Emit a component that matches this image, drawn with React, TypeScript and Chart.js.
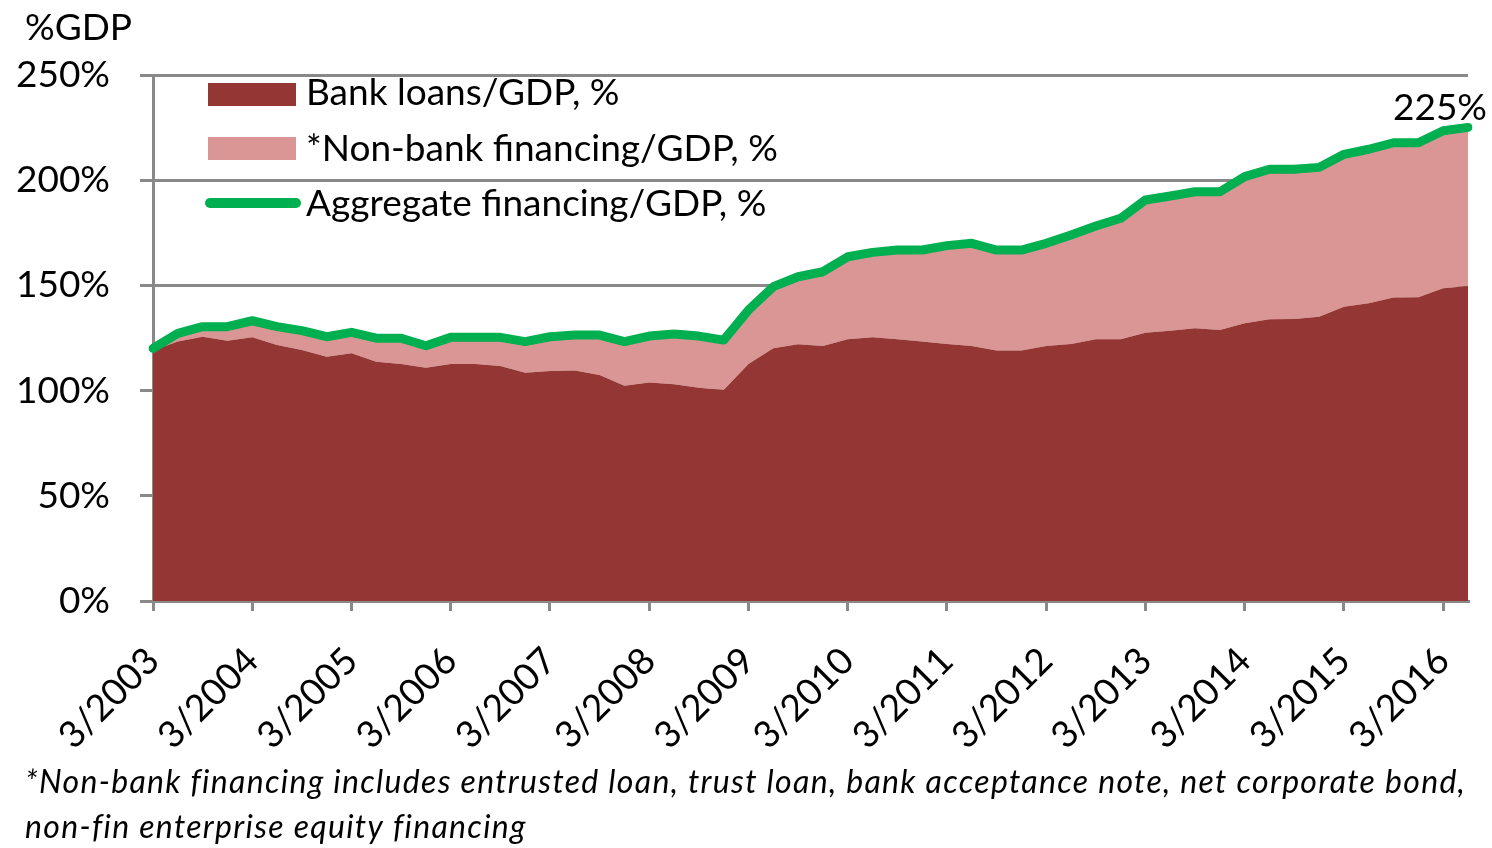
import React, { useEffect, useRef } from "react";
import { Chart, registerables } from "chart.js";

Chart.register(...registerables);

const years = [2003, 2004, 2005, 2006, 2007, 2008, 2009, 2010, 2011, 2012, 2013, 2014, 2015, 2016];
const quarterMonths = [3, 6, 9, 12];

const bankLoans = [
  119.0, 123.3, 125.6, 123.7, 125.3, 121.7, 119.3, 116.1, 117.7, 113.7, 112.6, 110.9,
  112.6, 112.6, 111.7, 108.5, 109.3, 109.5, 107.4, 102.3, 103.9, 103.0, 101.4, 100.3,
  112.6, 120.1, 122.0, 121.2, 124.4, 125.3, 124.4, 123.3, 122.1, 121.2, 119.0, 119.0,
  121.2, 122.1, 124.4, 124.4, 127.5, 128.5, 129.6, 128.8, 132.0, 133.9, 134.0, 135.1,
  139.9, 141.5, 144.3, 144.4, 148.6, 149.7,
];

const aggregateFinancing = [
  120.1, 127.2, 130.4, 130.4, 133.2, 130.4, 128.5, 125.6, 127.7, 124.9, 124.9, 121.3,
  125.3, 125.3, 125.3, 123.3, 125.6, 126.4, 126.4, 123.3, 125.9, 126.9, 125.9, 124.0,
  138.3, 149.4, 154.1, 156.5, 163.6, 165.7, 166.8, 166.8, 168.9, 170.0, 166.8, 166.8,
  170.0, 174.0, 178.2, 181.9, 190.6, 192.5, 194.5, 194.5, 201.7, 205.2, 205.2, 206.1,
  212.3, 214.7, 217.8, 217.8, 223.5, 225.1,
];

const categories: string[] = [];
years.forEach((y) => quarterMonths.forEach((m) => categories.push(`${m}/${y}`)));
const labels = categories.slice(0, bankLoans.length);

const yTicks = [0, 50, 100, 150, 200, 250];

const seriesNames = [
  "Bank loans/GDP, %",
  "*Non-bank financing/GDP, %",
  "Aggregate financing/GDP, %",
];

const axisTitle = "%GDP";
const footnoteLines = [
  "*Non-bank financing includes entrusted loan, trust loan, bank acceptance note, net corporate bond,",
  "non-fin enterprise equity financing",
];

const COLORS = {
  bank: "#943634",
  nonBank: "#D99694",
  aggregate: "#00B050",
  axis: "#898989",
  text: "#000000",
};

const FONT = "Lato, 'Open Sans', sans-serif";
const TICK_SIZE = 37;
const FOOT_SIZE = 32;

const overlayPlugin = {
  id: "overlay",
  afterDraw(chart: any) {
    const ctx = chart.ctx as CanvasRenderingContext2D;
    const ca = chart.chartArea;
    ctx.save();
    ctx.fillStyle = COLORS.text;
    ctx.textAlign = "left";
    ctx.textBaseline = "alphabetic";
    ctx.font = `${TICK_SIZE}px ${FONT}`;
    ctx.fillText(axisTitle, 25, 40);

    // legend
    const lx = ca.left + 55;
    const boxW = 88;
    const tx = lx + 98;
    ctx.fillStyle = COLORS.bank;
    ctx.fillRect(lx, ca.top + 8, boxW, 23);
    ctx.fillStyle = COLORS.nonBank;
    ctx.fillRect(lx, ca.top + 62, boxW, 23);
    ctx.strokeStyle = COLORS.aggregate;
    ctx.lineWidth = 10;
    ctx.lineCap = "round";
    ctx.beginPath();
    ctx.moveTo(lx + 2, ca.top + 128);
    ctx.lineTo(lx + boxW, ca.top + 128);
    ctx.stroke();
    ctx.fillStyle = COLORS.text;
    ctx.fillText(seriesNames[0], tx, ca.top + 30);
    ctx.fillText(seriesNames[1], tx, ca.top + 86);
    ctx.fillText(seriesNames[2], tx, ca.top + 141);

    // end value label
    const meta = chart.getDatasetMeta(2);
    const last = meta.data[meta.data.length - 1];
    const lastVal = aggregateFinancing[aggregateFinancing.length - 1];
    ctx.textAlign = "center";
    ctx.fillText(`${Math.round(lastVal)}%`, last.x - 28, last.y - 7);

    // footnote
    ctx.textAlign = "left";
    ctx.font = `italic ${FOOT_SIZE}px ${FONT}`;
    (ctx as any).letterSpacing = "1.3px";
    ctx.fillText(footnoteLines[0], 25, 793);
    ctx.fillText(footnoteLines[1], 25, 838);
    ctx.restore();
  },
};

export default function App() {
  const canvasRef = useRef<HTMLCanvasElement | null>(null);

  useEffect(() => {
    if (!canvasRef.current) return;
    const chart = new Chart(canvasRef.current, {
      type: "line",
      data: {
        labels,
        datasets: [
          {
            label: seriesNames[0],
            data: bankLoans,
            backgroundColor: COLORS.bank,
            borderWidth: 0,
            pointRadius: 0,
            fill: "origin",
            tension: 0,
          },
          {
            label: seriesNames[1],
            data: aggregateFinancing,
            backgroundColor: COLORS.nonBank,
            borderWidth: 0,
            pointRadius: 0,
            fill: "-1",
            tension: 0,
          },
          {
            label: seriesNames[2],
            data: aggregateFinancing,
            borderColor: COLORS.aggregate,
            borderWidth: 9,
            borderJoinStyle: "round",
            borderCapStyle: "round",
            pointRadius: 0,
            fill: false,
            tension: 0,
            order: -1,
          },
        ],
      },
      options: {
        responsive: false,
        animation: false,
        devicePixelRatio: 1,
        layout: { padding: { left: 0, right: 24, top: 75, bottom: 0 } },
        plugins: {
          legend: { display: false },
          tooltip: { enabled: false },
        },
        scales: {
          x: {
            type: "category",
            offset: false,
            grid: {
              drawOnChartArea: false,
              drawTicks: true,
              tickLength: 10,
              color: COLORS.axis,
              lineWidth: 3,
            },
            border: { display: true, color: COLORS.axis, width: 3 },
            ticks: {
              autoSkip: false,
              maxRotation: 45,
              minRotation: 45,
              padding: 28,
              color: COLORS.text,
              font: { family: FONT, size: TICK_SIZE },
              callback: (_v: any, i: number) =>
                labels[i] && labels[i].startsWith("3/") ? labels[i] : null,
            },
            afterFit: (scale: any) => {
              scale.height = 247;
              scale.paddingLeft = 0;
              scale.paddingRight = 0;
            },
          },
          y: {
            min: yTicks[0],
            max: yTicks[yTicks.length - 1],
            afterBuildTicks: (scale: any) => {
              scale.ticks = yTicks.map((v) => ({ value: v }));
            },
            grid: {
              color: COLORS.axis,
              lineWidth: 3,
              tickLength: 13,
              drawTicks: true,
            },
            border: { display: true, color: COLORS.axis, width: 3 },
            ticks: {
              padding: 30,
              color: COLORS.text,
              font: { family: FONT, size: TICK_SIZE },
              callback: (v: any) => `${v}%`,
            },
            afterFit: (scale: any) => {
              scale.width = 153;
            },
          },
        },
      },
      plugins: [overlayPlugin],
    });
    return () => chart.destroy();
  }, []);

  return (
    <div style={{ position: "absolute", left: 0, top: 0, width: 1492, height: 848, background: "#fff" }}>
      <canvas ref={canvasRef} width={1492} height={848} style={{ width: 1492, height: 848 }} />
    </div>
  );
}
